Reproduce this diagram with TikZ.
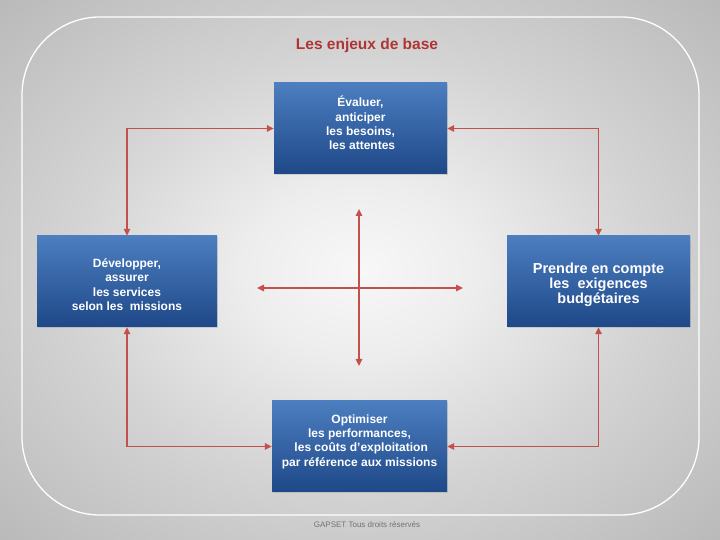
\documentclass[tikz,border=0pt]{standalone}
\usepackage{fontspec}
\setmainfont{Liberation Sans}
\usetikzlibrary{arrows.meta,shadows}
\definecolor{arrred}{RGB}{196,80,78}
\definecolor{titred}{RGB}{176,52,52}
\definecolor{btop}{RGB}{76,126,192}
\definecolor{bbot}{RGB}{30,72,136}
\pgfdeclareradialshading{bgshade}{\pgfpoint{0bp}{0bp}}{color(0bp)=(white!97!black); color(8bp)=(white!93!black); color(20bp)=(white!83!black); color(35bp)=(white!73!black); color(50bp)=(white!64!black); color(72bp)=(white!52!black)}
\tikzset{
  box/.style={draw=none, top color=btop, bottom color=bbot, text=white,
    font=\bfseries\fontsize{12}{14.3}\selectfont, align=center, inner sep=0pt,
    minimum height=91pt, drop shadow={opacity=0.25, shadow xshift=1pt, shadow yshift=-1.5pt}},
  arr/.style={draw=arrred, line width=1.5pt, {Triangle[length=7pt,width=6.5pt]}-{Triangle[length=7pt,width=6.5pt]}}
}
\begin{document}
\begin{tikzpicture}[x=1pt,y=1pt]
\useasboundingbox (0,0) rectangle (720,540);
\shade[shading=bgshade] (0,0) rectangle (720,540);
\draw[white, line width=1.3pt, rounded corners=78pt] (22,25) rectangle (699,523);
\node[font=\bfseries\fontsize{15.5}{18}\selectfont, text=titred] (title) at (367,494) {Les enjeux de base};
\node[font=\fontsize{8}{10}\selectfont, text=black!55] (foot) at (367,15) {GAPSET Tous droits réservés};

\node[box, minimum width=173pt] (top) at (360.5,411.5) {Évaluer,\\anticiper\\les besoins,\\\ les attentes\\[-3pt]};
\node[box, minimum width=180pt] (left) at (127,258.5) {\rule{0pt}{15pt}Développer,\\assurer\\les services\\selon les~ missions};
\node[box, minimum width=183pt, font=\bfseries\fontsize{14.5}{15.2}\selectfont] (right) at (598.5,258.5) {\mbox{}\\[2pt]Prendre en compte\\les~ exigences\\budgétaires};
\node[box, minimum width=175pt] (bot) at (359.5,93.5) {Optimiser\\les performances,\\\ les coûts d'exploitation\\par référence aux missions\\[-2pt]};

\draw[arr] (top.west) -| (left.north);
\draw[arr] (top.east) -| (right.north);
\draw[arr] (left.south) |- (bot.west);
\draw[arr] (right.south) |- (bot.east);

\coordinate (cn) at (359,331);
\coordinate (cs) at (359,174);
\coordinate (cw) at (257,252);
\coordinate (ce) at (463,252);
\draw[arr] (cs) -- (cn);
\draw[arr] (cw) -- (ce);
\end{tikzpicture}
\end{document}
